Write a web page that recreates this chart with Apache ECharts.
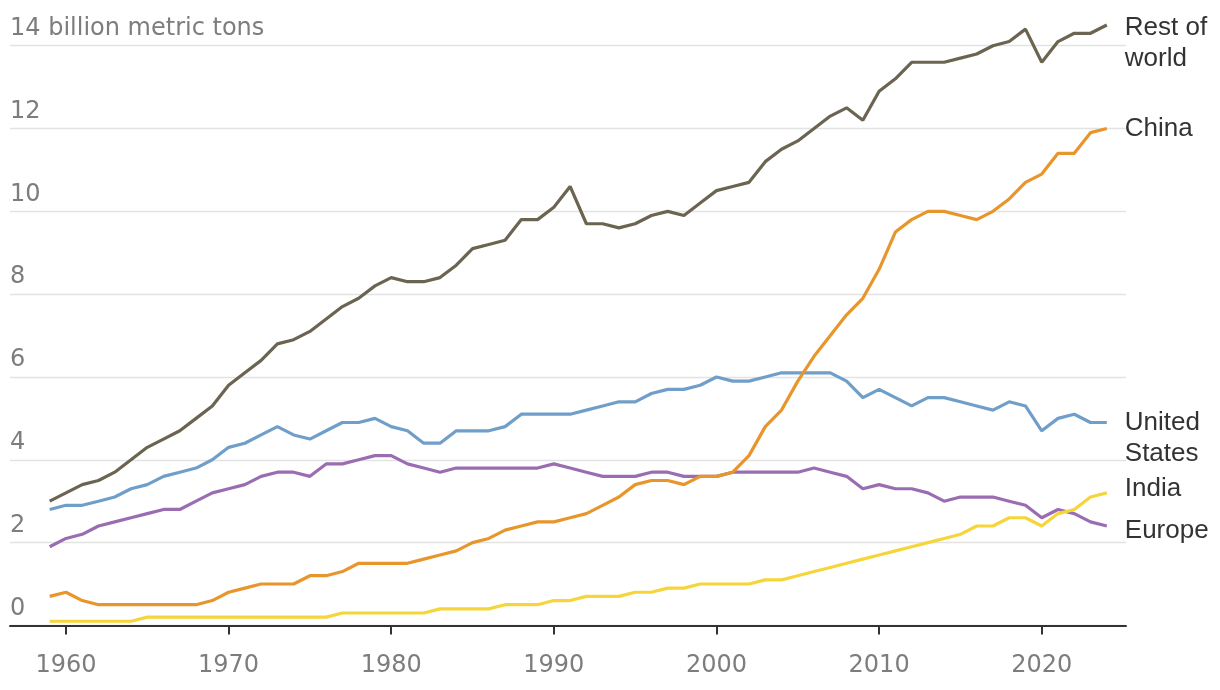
<!DOCTYPE html>
<html>
<head>
<meta charset="utf-8">
<script src="https://cdn.jsdelivr.net/npm/echarts@6/dist/echarts.min.js"></script>
<style>
html,body{margin:0;padding:0;background:#fff;}
#chart{width:1220px;height:690px;}
</style>
</head>
<body>
<div id="chart"></div>
<script>
const years = [1959,1960,1961,1962,1963,1964,1965,1966,1967,1968,1969,1970,1971,1972,1973,1974,1975,1976,1977,1978,1979,1980,1981,1982,1983,1984,1985,1986,1987,1988,1989,1990,1991,1992,1993,1994,1995,1996,1997,1998,1999,2000,2001,2002,2003,2004,2005,2006,2007,2008,2009,2010,2011,2012,2013,2014,2015,2016,2017,2018,2019,2020,2021,2022,2023,2024];
const restOfWorld = [3.0,3.2,3.4,3.5,3.7,4.0,4.3,4.5,4.7,5.0,5.3,5.8,6.1,6.4,6.8,6.9,7.1,7.4,7.7,7.9,8.2,8.4,8.3,8.3,8.4,8.7,9.1,9.2,9.3,9.8,9.8,10.1,10.6,9.7,9.7,9.6,9.7,9.9,10.0,9.9,10.2,10.5,10.6,10.7,11.2,11.5,11.7,12.0,12.3,12.5,12.2,12.9,13.2,13.6,13.6,13.6,13.7,13.8,14.0,14.1,14.4,13.6,14.1,14.3,14.3,14.5];
const china = [0.7,0.8,0.6,0.5,0.5,0.5,0.5,0.5,0.5,0.5,0.6,0.8,0.9,1.0,1.0,1.0,1.2,1.2,1.3,1.5,1.5,1.5,1.5,1.6,1.7,1.8,2.0,2.1,2.3,2.4,2.5,2.5,2.6,2.7,2.9,3.1,3.4,3.5,3.5,3.4,3.6,3.6,3.7,4.1,4.8,5.2,5.9,6.5,7.0,7.5,7.9,8.6,9.5,9.8,10.0,10.0,9.9,9.8,10.0,10.3,10.7,10.9,11.4,11.4,11.9,12.0];
const unitedStates = [2.8,2.9,2.9,3.0,3.1,3.3,3.4,3.6,3.7,3.8,4.0,4.3,4.4,4.6,4.8,4.6,4.5,4.7,4.9,4.9,5.0,4.8,4.7,4.4,4.4,4.7,4.7,4.7,4.8,5.1,5.1,5.1,5.1,5.2,5.3,5.4,5.4,5.6,5.7,5.7,5.8,6.0,5.9,5.9,6.0,6.1,6.1,6.1,6.1,5.9,5.5,5.7,5.5,5.3,5.5,5.5,5.4,5.3,5.2,5.4,5.3,4.7,5.0,5.1,4.9,4.9];
const europe = [1.9,2.1,2.2,2.4,2.5,2.6,2.7,2.8,2.8,3.0,3.2,3.3,3.4,3.6,3.7,3.7,3.6,3.9,3.9,4.0,4.1,4.1,3.9,3.8,3.7,3.8,3.8,3.8,3.8,3.8,3.8,3.9,3.8,3.7,3.6,3.6,3.6,3.7,3.7,3.6,3.6,3.6,3.7,3.7,3.7,3.7,3.7,3.8,3.7,3.6,3.3,3.4,3.3,3.3,3.2,3.0,3.1,3.1,3.1,3.0,2.9,2.6,2.8,2.7,2.5,2.4];
const india = [0.1,0.1,0.1,0.1,0.1,0.1,0.2,0.2,0.2,0.2,0.2,0.2,0.2,0.2,0.2,0.2,0.2,0.2,0.3,0.3,0.3,0.3,0.3,0.3,0.4,0.4,0.4,0.4,0.5,0.5,0.5,0.6,0.6,0.7,0.7,0.7,0.8,0.8,0.9,0.9,1.0,1.0,1.0,1.0,1.1,1.1,1.2,1.3,1.4,1.5,1.6,1.7,1.8,1.9,2.0,2.1,2.2,2.4,2.4,2.6,2.6,2.4,2.7,2.8,3.1,3.2];
const tickYears = [1960,1970,1980,1990,2000,2010,2020];
const yTicks = [0,2,4,6,8,10,12,14];
const unitLabel = '14 billion metric tons';

const chart = echarts.init(document.getElementById('chart'), null, {renderer:'canvas'});

function pairs(vals){ return years.map((y,i)=>[y, vals[i]]); }

function mkSeries(name, vals, color, labelText, offY){
  return {
    name: name, type:'line', data: pairs(vals), showSymbol:false, symbol:'none',
    clip:false,
    lineStyle:{color:color, width:3.2}, itemStyle:{color:color},
    emphasis:{disabled:true},
    endLabel:{show:true, formatter: labelText, distance:18, offset:[0, offY],
      color:'#333', fontSize:26, fontFamily:'"Liberation Sans", Arial, sans-serif',
      lineHeight:31, align:'left', verticalAlign:'middle'}
  };
}

const option = {
  animation:false,
  backgroundColor:'#fff',
  grid:{left:10, right:94, top:45.7, bottom:64.6, containLabel:false},
  xAxis:{
    type:'value', min:1956.559, max:2025.181,
    axisLine:{show:true, onZero:false, lineStyle:{color:'#333', width:2}},
    axisTick:{show:true, customValues: tickYears, length:9, lineStyle:{color:'#333', width:2}},
    axisLabel:{customValues: tickYears, margin:28, color:'#7d7d7d', fontSize:24,
      fontFamily:'"DejaVu Sans", sans-serif', formatter:function(v){ return String(v); }},
    splitLine:{show:false}
  },
  yAxis:{
    type:'value', min:0, max:14, interval:2,
    axisLine:{show:false}, axisTick:{show:false},
    splitLine:{show:true, lineStyle:{color:'#e3e3e3', width:1.3}},
    axisLabel:{inside:true, margin:0, align:'left', verticalAlign:'bottom', padding:[0,0,5,0],
      color:'#7d7d7d', fontSize:24, lineHeight:24, fontFamily:'"DejaVu Sans", sans-serif',
      formatter:function(v){ return v === 14 ? unitLabel : String(v); }}
  },
  series:[
    mkSeries('Rest of world', restOfWorld, '#6b6451', 'Rest of\nworld', 18.5),
    mkSeries('United States', unitedStates, '#6f9ec9', 'United\nStates', 16),
    mkSeries('Europe', europe, '#9a6db3', 'Europe', 5),
    mkSeries('India', india, '#f6d53a', 'India', -4.5),
    mkSeries('China', china, '#e8952b', 'China', 0)
  ]
};
chart.setOption(option);
</script>
</body>
</html>
